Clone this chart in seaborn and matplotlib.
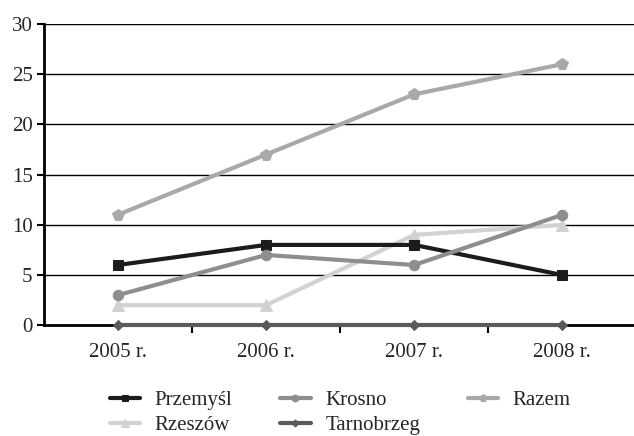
import pandas as pd
import matplotlib
matplotlib.use('Agg')
import matplotlib.pyplot as plt
import seaborn as sns

# dane
years = ['2005 r.', '2006 r.', '2007 r.', '2008 r.']
przemysl = [6, 8, 8, 5]
krosno = [3, 7, 6, 11]
razem = [11, 17, 23, 26]
rzeszow = [2, 2, 9, 10]
tarnobrzeg = [0, 0, 0, 0]

# kolejność w legendzie (wypełniana kolumnami, ncol=3)
series = [
    ('Przemyśl', przemysl, '#1c1c1c', 's', 6.5),
    ('Rzeszów', rzeszow, '#d2d2d2', '^', 8),
    ('Krosno', krosno, '#8e8e8e', 'o', 7.5),
    ('Tarnobrzeg', tarnobrzeg, '#5a5a5a', 'D', 5.5),
    ('Razem', razem, '#a9a9a9', 'p', 8.5),
]

sns.set_style('white')
plt.rcParams['font.family'] = ['Liberation Serif', 'DejaVu Serif']
FS = 15

fig = plt.figure(figsize=(6.34, 4.36), dpi=100)
ax = fig.add_axes([0.069, 0.254, 0.935, 0.691])

for y in range(5, 31, 5):
    ax.axhline(y, color='black', lw=1.0, zorder=0)

z = {'Przemyśl': 4, 'Rzeszów': 3, 'Krosno': 5, 'Tarnobrzeg': 6, 'Razem': 2}
for name, vals, col, mk, ms in series:
    df = pd.DataFrame({'rok': years, 'wartosc': vals})
    sns.lineplot(data=df, x='rok', y='wartosc', ax=ax, color=col, lw=3,
                 marker=mk, markersize=ms, markeredgecolor=col,
                 label=name, zorder=z[name], clip_on=False)

ax.set_xlim(-0.5, 3.5)
ax.set_ylim(0, 30)
ax.set_yticks(range(0, 31, 5))
ax.set_xticks([0.5, 1.5, 2.5], minor=True)
ax.set_xticks(range(4))
ax.set_xticklabels(years)
ax.tick_params(axis='x', which='major', length=0, labelsize=FS, pad=13)
ax.tick_params(axis='x', which='minor', length=6, width=1.5, color='black',
               direction='out', bottom=True)
ax.tick_params(axis='y', length=5, width=1.5, color='black', direction='out',
               left=True, labelsize=FS, pad=3)
ax.set_xlabel('')
ax.set_ylabel('')
for s in ['top', 'right']:
    ax.spines[s].set_visible(False)
ax.spines['left'].set_color('black')
ax.spines['left'].set_linewidth(2)
ax.spines['bottom'].set_color('black')
ax.spines['bottom'].set_linewidth(2)

ax.legend(loc='upper left', bbox_to_anchor=(0.08, -0.155), ncol=3, frameon=False,
          fontsize=FS, handlelength=1.45, columnspacing=2.3, labelspacing=0.25,
          handletextpad=0.7, markerscale=0.65)

fig.savefig('out.png', dpi=100)
